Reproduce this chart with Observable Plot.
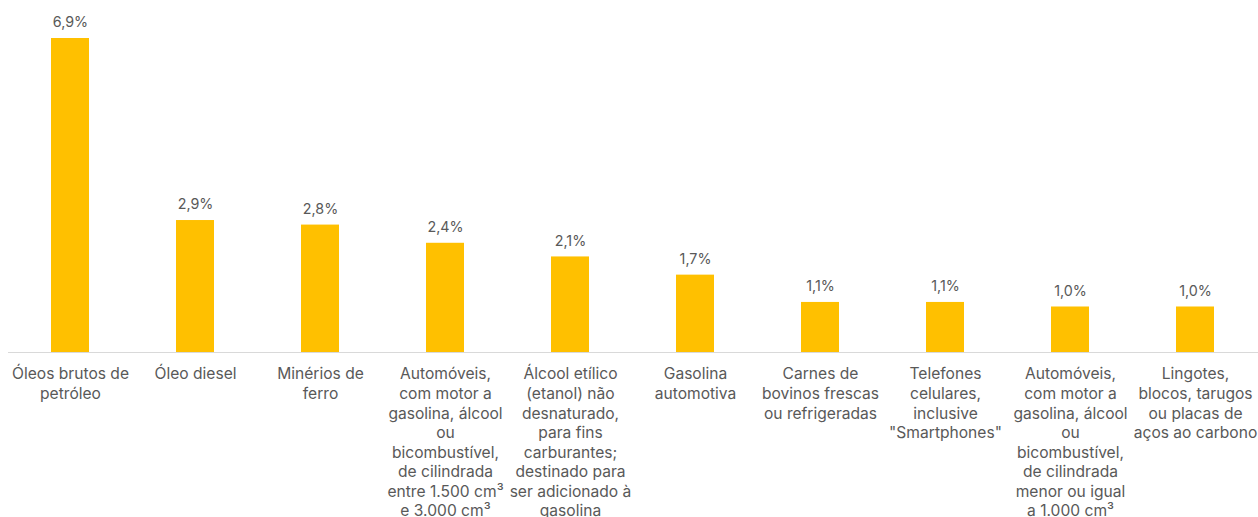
<!DOCTYPE html>
<html>
<head>
<meta charset="utf-8">
<script src="https://cdn.jsdelivr.net/npm/d3@7"></script>
<script src="https://cdn.jsdelivr.net/npm/@observablehq/plot@0.6"></script>
<style>
  html, body { margin: 0; padding: 0; background: #fff; }
  #chart svg { display: block; }
</style>
</head>
<body>
<div id="chart"></div>
<script>
const categories = [
  "Óleos brutos de\npetróleo",
  "Óleo diesel",
  "Minérios de\nferro",
  "Automóveis,\ncom motor a\ngasolina, álcool\nou\nbicombustível,\nde cilindrada\nentre 1.500 cm³\ne 3.000 cm³",
  "Álcool etílico\n(etanol) não\ndesnaturado,\npara fins\ncarburantes;\ndestinado para\nser adicionado à\ngasolina",
  "Gasolina\nautomotiva",
  "Carnes de\nbovinos frescas\nou refrigeradas",
  "Telefones\ncelulares,\ninclusive\n\"Smartphones\"",
  "Automóveis,\ncom motor a\ngasolina, álcool\nou\nbicombustível,\nde cilindrada\nmenor ou igual\na 1.000 cm³",
  "Lingotes,\nblocos, tarugos\nou placas de\naços ao carbono"
];
const values = [6.9, 2.9, 2.8, 2.4, 2.1, 1.7, 1.1, 1.1, 1.0, 1.0];

const data = categories.map((c, i) => ({category: c, value: values[i]}));
const fmt = v => v.toFixed(1).replace(".", ",") + "%";

const chart = Plot.plot({
  width: 1258,
  height: 517,
  marginLeft: 8,
  marginRight: 0,
  marginTop: 38,
  marginBottom: 165,
  style: {fontFamily: "Inter, sans-serif", background: "#fff"},
  x: {domain: categories, range: [6, 1260], paddingInner: 0.695, paddingOuter: 0.3475, align: 0.5, axis: null},
  y: {domain: [0, 6.9], axis: null},
  marks: [
    Plot.barY(data, {x: "category", y: "value", fill: "#FFC000"}),
    Plot.ruleY([0], {stroke: "#d9d9d9", strokeWidth: 1}),
    Plot.text(data, {x: "category", y: "value", text: d => fmt(d.value), dy: -16, fontSize: 14.3, fill: "#595959"}),
    Plot.text(data, {x: "category", y: 0, text: "category", lineAnchor: "top", dy: 13, fontSize: 15.6, lineHeight: 1.255, fill: "#595959"})
  ]
});
document.getElementById("chart").appendChild(chart);
</script>
</body>
</html>
